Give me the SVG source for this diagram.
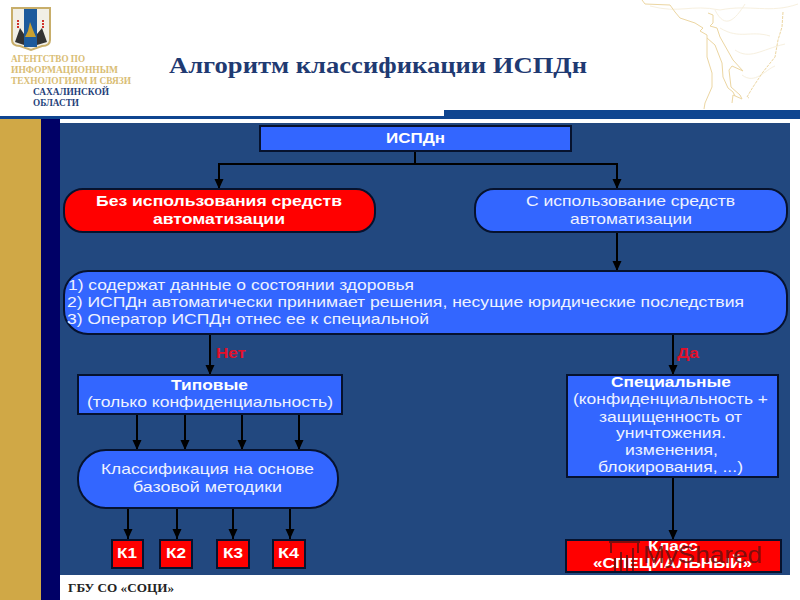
<svg xmlns="http://www.w3.org/2000/svg" width="800" height="600" viewBox="0 0 800 600">
<style>
.n{fill:#3366ff;stroke:#06122e;stroke-width:2}
.r{fill:#ff0000;stroke:#06122e;stroke-width:2}
text{font-family:"Liberation Sans",Arial,sans-serif;fill:#fff;text-anchor:start}
.s{font-size:14.5px;fill:#eef2ff}
.b{font-size:14.5px;font-weight:bold}
.h{font-family:"Liberation Serif","Times New Roman",serif;font-weight:bold}
.g{fill:#d9bd74;font-size:10px}
.d{fill:#1f3f7a;font-size:10px}
.y{fill:#e3102a;font-weight:bold}
.c{fill:none;stroke:#000;stroke-width:2}
.m{fill:none;stroke:#ecd6a2;stroke-width:1}
.f{fill:none;stroke:#f7f0df;stroke-width:1}
.w{fill:none;stroke:#6e1010;stroke-width:2;stroke-opacity:.9}
</style>
<defs>
<marker id="a" markerUnits="userSpaceOnUse" markerWidth="10" markerHeight="10" refX="10" refY="4.5" orient="auto"><path d="M0 0L10 4.5L0 9Z" fill="#000"/></marker>
</defs>
<rect width="800" height="600" fill="#fff"/>
<g id="map">
<path class="f" d="M650 6C680 14 690 4 720 10C750 4 770 14 798 4M720 28C740 40 750 30 770 36M735 50C750 60 760 50 785 44M742 75C755 85 765 70 775 66M715 10C725 30 735 20 745 4"/>
<path class="m" d="M642 0L645 4L670 5L675 12L680 18L695 23L703 28L700 31L707 35L707 40L707 57L712 73L712 87L705 103L704 109"/>
<path class="m" d="M707 38L715 45L722 63L723 77L728 88L733 92L735 96"/>
<path class="m" d="M708 13L713 15L713 23L710 26L717 28L720 37L733 60L743 71L732 66L729 70L731 87L740 95L742 99L733 95L732 103"/>
<path class="m" stroke-dasharray="3 1" stroke-width="1.5" d="M783 12L782 27L778 40L775 57L763 72L753 87L747 97L749 98"/>
</g>
<g id="header">
<path d="M12 8H50V40Q50 46 42 46L31 50L20 46Q12 46 12 40Z" fill="#f1efe6" stroke="#c8ae6a" stroke-width="2"/>
<rect x="24" y="9" width="13" height="38" fill="#1c5a9c"/>
<path d="M25 37L36 37L33 30L30 22L28 31Z" fill="#c9a030"/>
<path d="M15 42L24 45L24 34L20 28ZM47 42L37 45L37 34L42 28Z" fill="#333"/>
<path d="M18 20V28M43 20V28" stroke="#d0342c" stroke-width="2" stroke-dasharray="2 1"/>
<text class="h g" x="11" y="62" textLength="74" lengthAdjust="spacingAndGlyphs">АГЕНТСТВО ПО</text>
<text class="h g" x="11" y="73" textLength="107" lengthAdjust="spacingAndGlyphs">ИНФОРМАЦИОННЫМ</text>
<text class="h g" x="11" y="84" textLength="120" lengthAdjust="spacingAndGlyphs">ТЕХНОЛОГИЯМ И СВЯЗИ</text>
<text class="h d" x="33" y="95" textLength="76" lengthAdjust="spacingAndGlyphs">САХАЛИНСКОЙ</text>
<text class="h d" x="33" y="106" textLength="46" lengthAdjust="spacingAndGlyphs">ОБЛАСТИ</text>
<text class="h" x="169" y="73" textLength="418" lengthAdjust="spacingAndGlyphs" style="fill:#1f3a72;font-size:24px">Алгоритм классификации ИСПДн</text>
</g>
<g id="frame">
<rect x="0" y="116" width="800" height="3" fill="#0f4590"/>
<rect x="444" y="110" width="356" height="9" fill="#0f4590"/>
<rect x="0" y="119" width="41" height="481" fill="#d0a846"/>
<rect x="41" y="119" width="19" height="481" fill="#000066"/>
<rect x="60" y="123" width="730" height="452" fill="#22487f"/>
<text class="h" x="68" y="592" textLength="106" lengthAdjust="spacingAndGlyphs" style="fill:#222;font-size:12.5px">ГБУ СО «СОЦИ»</text>
</g>
<g id="connectors">
<path class="c" d="M415 151V164M218 164H618"/>
<path class="c" marker-end="url(#a)" d="M219 164V189"/>
<path class="c" marker-end="url(#a)" d="M617 164V189"/>
<path class="c" marker-end="url(#a)" d="M617 233V271"/>
<path class="c" marker-end="url(#a)" d="M210 334V375"/>
<path class="c" marker-end="url(#a)" d="M673 334V375"/>
<path class="c" marker-end="url(#a)" d="M137 415V450"/>
<path class="c" marker-end="url(#a)" d="M185 415V450"/>
<path class="c" marker-end="url(#a)" d="M242 415V450"/>
<path class="c" marker-end="url(#a)" d="M299 415V450"/>
<path class="c" marker-end="url(#a)" d="M128 508V539"/>
<path class="c" marker-end="url(#a)" d="M177 508V539"/>
<path class="c" marker-end="url(#a)" d="M233 508V539"/>
<path class="c" marker-end="url(#a)" d="M290 508V539"/>
<path class="c" marker-end="url(#a)" d="M673 477V540"/>
</g>
<g id="n1"><rect class="n" x="260" y="126" width="311" height="25"/><text class="b" x="386" y="143" textLength="59" lengthAdjust="spacingAndGlyphs">ИСПДн</text></g>
<g id="n2"><rect class="r" x="64" y="189" width="311" height="43" rx="19"/><text class="b" x="96" y="206" textLength="246" lengthAdjust="spacingAndGlyphs">Без использования средств</text><text class="b" x="153" y="224" textLength="132" lengthAdjust="spacingAndGlyphs">автоматизации</text></g>
<g id="n3"><rect class="n" x="475" y="189" width="312" height="43" rx="19"/><text class="s" x="526" y="206" textLength="209" lengthAdjust="spacingAndGlyphs">С использование средств</text><text class="s" x="570" y="224" textLength="122" lengthAdjust="spacingAndGlyphs">автоматизации</text></g>
<g id="n4"><rect class="n" x="64" y="271" width="723" height="63" rx="24"/><text class="s" x="68" y="290" textLength="346" lengthAdjust="spacingAndGlyphs">1) содержат данные о состоянии здоровья</text><text class="s" x="67" y="307" textLength="677" lengthAdjust="spacingAndGlyphs">2) ИСПДн автоматически принимает решения, несущие юридические последствия</text><text class="s" x="67" y="324" textLength="362" lengthAdjust="spacingAndGlyphs">3) Оператор ИСПДн отнес ее к специальной</text></g>
<g id="no"><text class="b y" x="216" y="358" textLength="30" lengthAdjust="spacingAndGlyphs">Нет</text></g>
<g id="yes"><text class="b y" x="677" y="358" textLength="22" lengthAdjust="spacingAndGlyphs">Да</text></g>
<g id="n5"><rect class="n" x="78" y="375" width="264" height="39"/><text class="b" x="171" y="390" textLength="77" lengthAdjust="spacingAndGlyphs">Типовые</text><text class="s" x="87" y="407" textLength="246" lengthAdjust="spacingAndGlyphs">(только конфиденциальность)</text></g>
<g id="n6"><rect class="n" x="567" y="375" width="211" height="102"/><text class="b" x="611" y="387" textLength="120" lengthAdjust="spacingAndGlyphs">Специальные</text><text class="s" x="573" y="404" textLength="195" lengthAdjust="spacingAndGlyphs">(конфиденциальность +</text><text class="s" x="599" y="422" textLength="143" lengthAdjust="spacingAndGlyphs">защищенность от</text><text class="s" x="616" y="438" textLength="110" lengthAdjust="spacingAndGlyphs">уничтожения.</text><text class="s" x="625" y="455" textLength="93" lengthAdjust="spacingAndGlyphs">изменения,</text><text class="s" x="598" y="472" textLength="145" lengthAdjust="spacingAndGlyphs">блокирования, ...)</text></g>
<g id="n7"><rect class="n" x="78" y="450" width="260" height="58" rx="28"/><text class="s" x="101" y="474" textLength="213" lengthAdjust="spacingAndGlyphs">Классификация на основе</text><text class="s" x="133" y="492" textLength="149" lengthAdjust="spacingAndGlyphs">базовой методики</text></g>
<g id="k1"><rect class="r" x="112" y="540" width="31" height="28"/><text class="b" x="117" y="558" textLength="20" lengthAdjust="spacingAndGlyphs">К1</text></g>
<g id="k2"><rect class="r" x="160" y="540" width="32" height="28"/><text class="b" x="166" y="558" textLength="20" lengthAdjust="spacingAndGlyphs">К2</text></g>
<g id="k3"><rect class="r" x="217" y="540" width="32" height="28"/><text class="b" x="223" y="558" textLength="20" lengthAdjust="spacingAndGlyphs">К3</text></g>
<g id="k4"><rect class="r" x="273" y="540" width="32" height="28"/><text class="b" x="278" y="558" textLength="21" lengthAdjust="spacingAndGlyphs">К4</text></g>
<g id="n8"><rect class="r" x="566" y="540" width="215" height="32"/><text class="b" x="648" y="551" textLength="50" lengthAdjust="spacingAndGlyphs">Класс</text><text class="b" x="593" y="568" textLength="159" lengthAdjust="spacingAndGlyphs">«СПЕЦИАЛЬНЫЙ»</text></g>
<g id="watermark">
<path class="w" d="M609 542H640M611 542V553M638 542V553M615 571V558M621 571V552M627 571V555M633 571V548"/>
<text x="643" y="563" textLength="119" lengthAdjust="spacingAndGlyphs" style="font-size:24px;fill:#6e1010;fill-opacity:.9">MyShared</text>
</g>
</svg>
